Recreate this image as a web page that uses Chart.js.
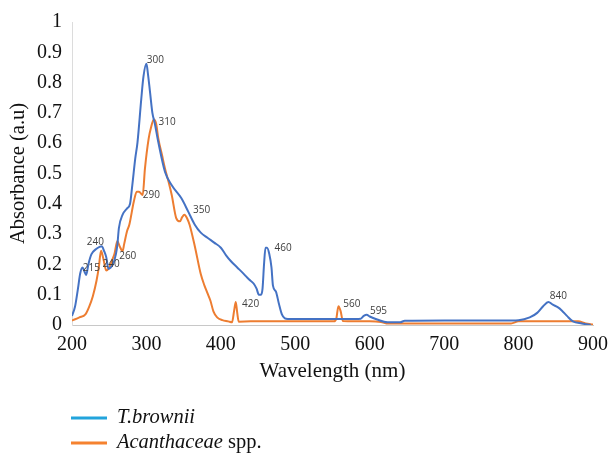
<!DOCTYPE html>
<html>
<head>
<meta charset="utf-8">
<script src="https://cdn.jsdelivr.net/npm/chart.js@4"></script>
<style>
  html, body { margin: 0; padding: 0; background: #fff; }
  #wrap { width: 616px; height: 457px; position: relative; }
</style>
</head>
<body>
<div id="wrap"><canvas id="spectra"></canvas></div>
<script>
// ===== DATA =====
const xTicks = [200, 300, 400, 500, 600, 700, 800, 900];
const yTicks = [0, 0.1, 0.2, 0.3, 0.4, 0.5, 0.6, 0.7, 0.8, 0.9, 1];

// T.brownii spectrum
const browniiNm = [200, 204, 208, 211, 214, 217, 219, 222, 226, 232, 237, 240, 243, 246, 249, 252, 255, 259, 261, 263,
  268, 274, 278, 281, 285, 288, 293, 296, 300, 302, 305, 308, 311, 316, 325, 334, 347, 356, 365, 373,
  382, 391, 400, 407, 413, 422, 431, 438, 444, 448, 451, 454, 456, 458, 460, 462, 465, 468, 470, 474,
  478, 482, 486, 490, 550, 570, 588, 592, 596, 600, 610, 624, 641, 647, 700, 780, 800, 815, 825, 833,
  840, 846, 853, 858, 865, 873, 885, 897];
const browniiAbs = [0.03, 0.06, 0.12, 0.17, 0.19, 0.175, 0.165, 0.2, 0.233, 0.25, 0.258, 0.26, 0.245, 0.224, 0.185, 0.19, 0.2, 0.234, 0.266, 0.32,
  0.364, 0.385, 0.4, 0.461, 0.55, 0.603, 0.744, 0.82, 0.862, 0.83, 0.765, 0.7, 0.668, 0.603, 0.505, 0.461, 0.418, 0.375, 0.331, 0.305,
  0.288, 0.272, 0.255, 0.23, 0.212, 0.19, 0.168, 0.15, 0.137, 0.12, 0.1, 0.1, 0.12, 0.2, 0.255, 0.255, 0.235, 0.19, 0.13, 0.11,
  0.07, 0.035, 0.022, 0.02, 0.02, 0.02, 0.021, 0.03, 0.034, 0.028, 0.018, 0.009, 0.009, 0.014, 0.015, 0.015, 0.016, 0.025, 0.04, 0.062,
  0.076, 0.067, 0.058, 0.048, 0.03, 0.012, 0.005, 0.0];

// Acanthaceae spp. spectrum
const acanthNm = [200, 210, 218, 223, 228, 233, 236, 239, 242, 246, 250, 254, 257, 261, 264, 268, 270, 274, 277, 283,
  287, 290, 295, 298, 303, 306, 310, 313, 316, 321, 325, 330, 334, 340, 345, 348, 351, 355, 358, 365,
  373, 378, 382, 386, 390, 395, 402, 410, 415, 418, 420, 422, 424, 440, 500, 552, 555, 558, 561, 564,
  600, 615, 625, 790, 800, 880, 890, 900];
const acanthAbs = [0.015, 0.025, 0.035, 0.06, 0.095, 0.147, 0.19, 0.245, 0.22, 0.18, 0.19, 0.215, 0.234, 0.277, 0.26, 0.244, 0.266, 0.31, 0.331, 0.407,
  0.44, 0.44, 0.429, 0.516, 0.615, 0.65, 0.678, 0.665, 0.615, 0.56, 0.516, 0.47, 0.429, 0.353, 0.342, 0.356, 0.364, 0.35, 0.331, 0.26,
  0.168, 0.13, 0.105, 0.08, 0.045, 0.025, 0.016, 0.012, 0.009, 0.05, 0.076, 0.04, 0.011, 0.012, 0.012, 0.012, 0.02, 0.062, 0.045, 0.013,
  0.012, 0.01, 0.005, 0.005, 0.012, 0.012, 0.005, 0.002];

// peak annotations (text anchored at its left/middle)
const peakText = ['215', '240', '240', '260', '290', '300', '310', '350', '460', '420', '560', '595', '840'];
const peakNm = [214.5, 219.8, 241, 263.4, 295, 300.4, 316.2, 362.5, 472, 428.5, 564.6, 600.3, 842];
const peakAbs = [0.189, 0.274, 0.202, 0.228, 0.43, 0.873, 0.671, 0.378, 0.254, 0.068, 0.068, 0.046, 0.094];

const seriesNames = ['T.brownii', 'Acanthaceae'];
const lineColors = ['#4472c4', '#ed7d31'];
const legendColors = ['#22a4dc', '#f5822f'];

const SERIF = '"Liberation Serif", "DejaVu Serif", serif';

function toPoints(xs, ys) {
  return xs.map((x, i) => ({ x, y: ys[i] }));
}

// ===== PLUGIN: peak labels + legend =====
const extrasPlugin = {
  id: 'extras',
  afterDatasetsDraw(chart) {
    const { ctx, scales: { x, y } } = chart;
    ctx.save();
    ctx.fillStyle = '#404040';
    ctx.font = '10px "Open Sans", sans-serif';
    ctx.textAlign = 'left';
    ctx.textBaseline = 'middle';
    peakText.forEach((t, i) => {
      ctx.fillText(t, x.getPixelForValue(peakNm[i]), y.getPixelForValue(peakAbs[i]));
    });

    // legend
    const rows = [418, 443];
    rows.forEach((ry, i) => {
      ctx.strokeStyle = legendColors[i];
      ctx.lineWidth = 3;
      ctx.beginPath();
      ctx.moveTo(71, ry);
      ctx.lineTo(107, ry);
      ctx.stroke();
    });
    ctx.fillStyle = '#111';
    ctx.textBaseline = 'middle';
    ctx.font = 'italic 20.5px ' + SERIF;
    ctx.fillText(seriesNames[0], 117, rows[0]);
    ctx.fillText(seriesNames[1], 117, rows[1]);
    const w = ctx.measureText(seriesNames[1]).width;
    ctx.font = '20.5px ' + SERIF;
    ctx.fillText(' spp.', 117 + w, rows[1]);
    ctx.restore();
  }
};

// ===== CHART =====
new Chart(document.getElementById('spectra'), {
  type: 'line',
  data: {
    datasets: [
      {
        label: seriesNames[0],
        data: toPoints(browniiNm, browniiAbs),
        borderColor: lineColors[0],
        borderWidth: 2,
        pointRadius: 0,
        cubicInterpolationMode: 'monotone',
      },
      {
        label: seriesNames[1],
        data: toPoints(acanthNm, acanthAbs),
        borderColor: lineColors[1],
        borderWidth: 2,
        pointRadius: 0,
        cubicInterpolationMode: 'monotone',
      },
    ],
  },
  options: {
    responsive: true,
    maintainAspectRatio: false,
    animation: false,
    layout: { padding: { top: 18, right: 14, left: 0, bottom: 0 } },
    plugins: { legend: { display: false }, tooltip: { enabled: false } },
    scales: {
      x: {
        type: 'linear',
        min: 200,
        max: 900,
        afterFit: s => { s.height = 132; },
        afterBuildTicks: s => { s.ticks = xTicks.map(v => ({ value: v })); },
        grid: { display: false, drawTicks: false },
        border: { display: true, color: '#c8c8c8', width: 1 },
        ticks: { color: '#111', padding: 8, font: { family: SERIF, size: 20 } },
        title: {
          display: true,
          text: 'Wavelength (nm)',
          color: '#111',
          font: { family: SERIF, size: 21 },
          padding: { top: 0, bottom: 73 },
        },
      },
      y: {
        min: 0,
        max: 1,
        afterFit: s => { s.width = 72; },
        afterBuildTicks: s => { s.ticks = yTicks.map(v => ({ value: v })); },
        grid: { display: false, drawTicks: false },
        border: { display: true, color: '#dcdcdc', width: 1 },
        ticks: {
          color: '#111',
          padding: 10,
          font: { family: SERIF, size: 20 },
          callback: v => String(+v.toFixed(1)),
        },
        title: {
          display: true,
          text: 'Absorbance (a.u)',
          color: '#111',
          font: { family: SERIF, size: 20.5 },
          padding: { top: 6, bottom: 0 },
        },
      },
    },
  },
  plugins: [extrasPlugin],
});
</script>
</body>
</html>
